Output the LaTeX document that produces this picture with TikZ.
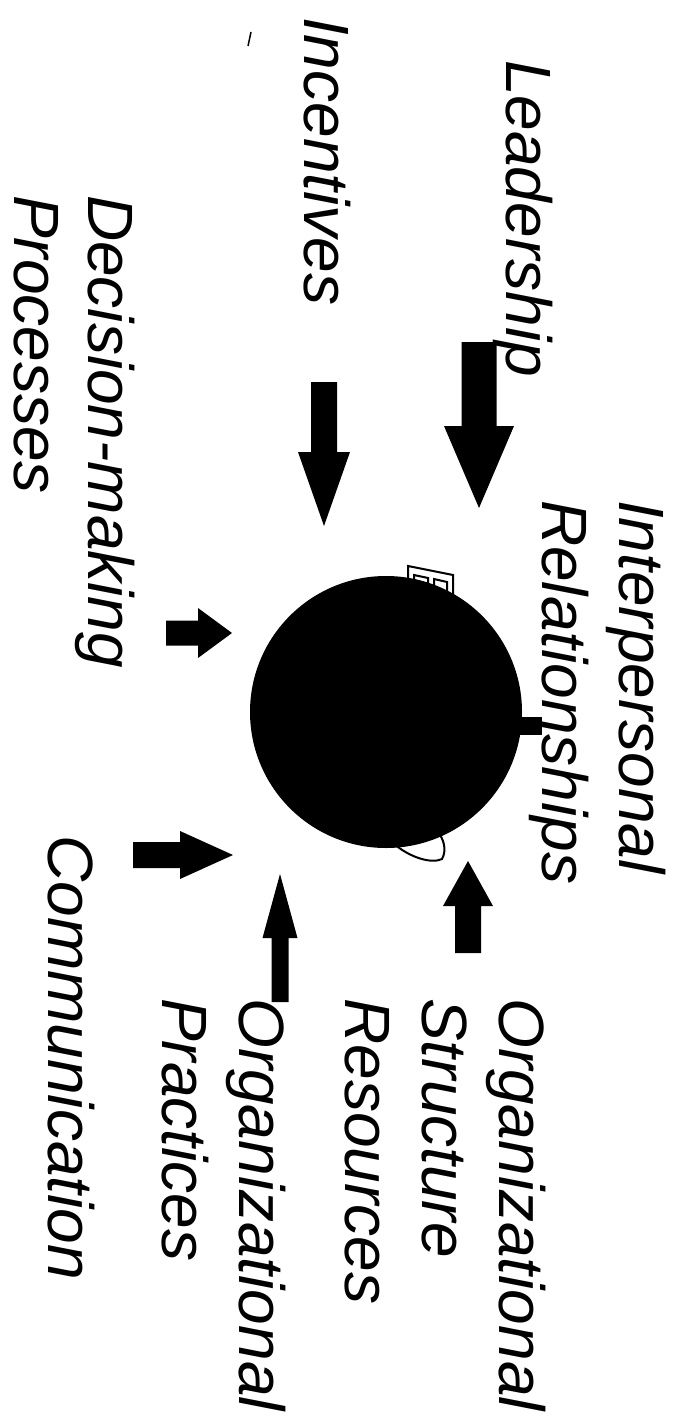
\documentclass[tikz,border=0pt]{standalone}
\usepackage{fontspec}
\setmainfont{Liberation Sans}
\begin{document}
\begin{tikzpicture}[x=1pt, y=1pt,
  lbl/.style={rotate=-90, anchor=north west, inner sep=0, text depth=0pt, align=left, font=\fontsize{64}{77}\selectfont\itshape},
  pics/blockarrow/.style n args={4}{code={\fill (0,0)--(-#3,#4/2)--(-#3,#2/2)--(-#3-#1,#2/2)--(-#3-#1,-#2/2)--(-#3,-#2/2)--(-#3,-#4/2)--cycle;}}]
\useasboundingbox (0,0) rectangle (678,-1423);
\node[lbl] (lead) at (553,-60) {Leadership};
\node[lbl] (inc) at (351,-17) {Incentives};
\node[lbl, font=\fontsize{64}{74}\selectfont\itshape] (dec) at (135,-195) {Decision-making\\Processes};
\node[lbl] (inter) at (666,-500) {Interpersonal\\Relationships};
\node[lbl] (orgs) at (546,-998) {Organizational\\Structure\\Resources};
\node[lbl] (orgp) at (286,-998) {Organizational\\Practices};
\node[lbl] (comm) at (95,-835) {Communication};
\pic[rotate=-90] at (479,-508) {blockarrow={84}{35}{82}{70}};
\pic[rotate=-90] at (324,-526) {blockarrow={70}{26}{74}{52}};
\pic at (232,-633) {blockarrow={32}{25}{34}{50}};
\pic at (233,-855) {blockarrow={47}{26}{53}{48}};
\pic[rotate=90] at (280,-874) {blockarrow={64}{17}{64}{35}};
\pic[rotate=90] at (468,-861) {blockarrow={47}{26}{45}{50}};
\draw[line width=2, fill=white] (408,-566)--(453,-575)--(453,-600)--(447,-600)--(447,-582)--(434,-579)--(434,-600)--(428,-600)--(428,-578)--(414,-575)--(414,-600)--(408,-600)--cycle;
\draw[line width=2, fill=white] (393,-843) .. controls (410,-858) and (432,-864) .. (442,-859) .. controls (447,-850) and (444,-838) .. (436,-830) -- (400,-830) -- cycle;
\fill (515,-717) rectangle (542,-735);
\node[circle, fill, inner sep=0, minimum size=272pt] (core) at (386,-712) {};
\draw[line width=1.5] (251,-32)--(248,-46);
\end{tikzpicture}
\end{document}
